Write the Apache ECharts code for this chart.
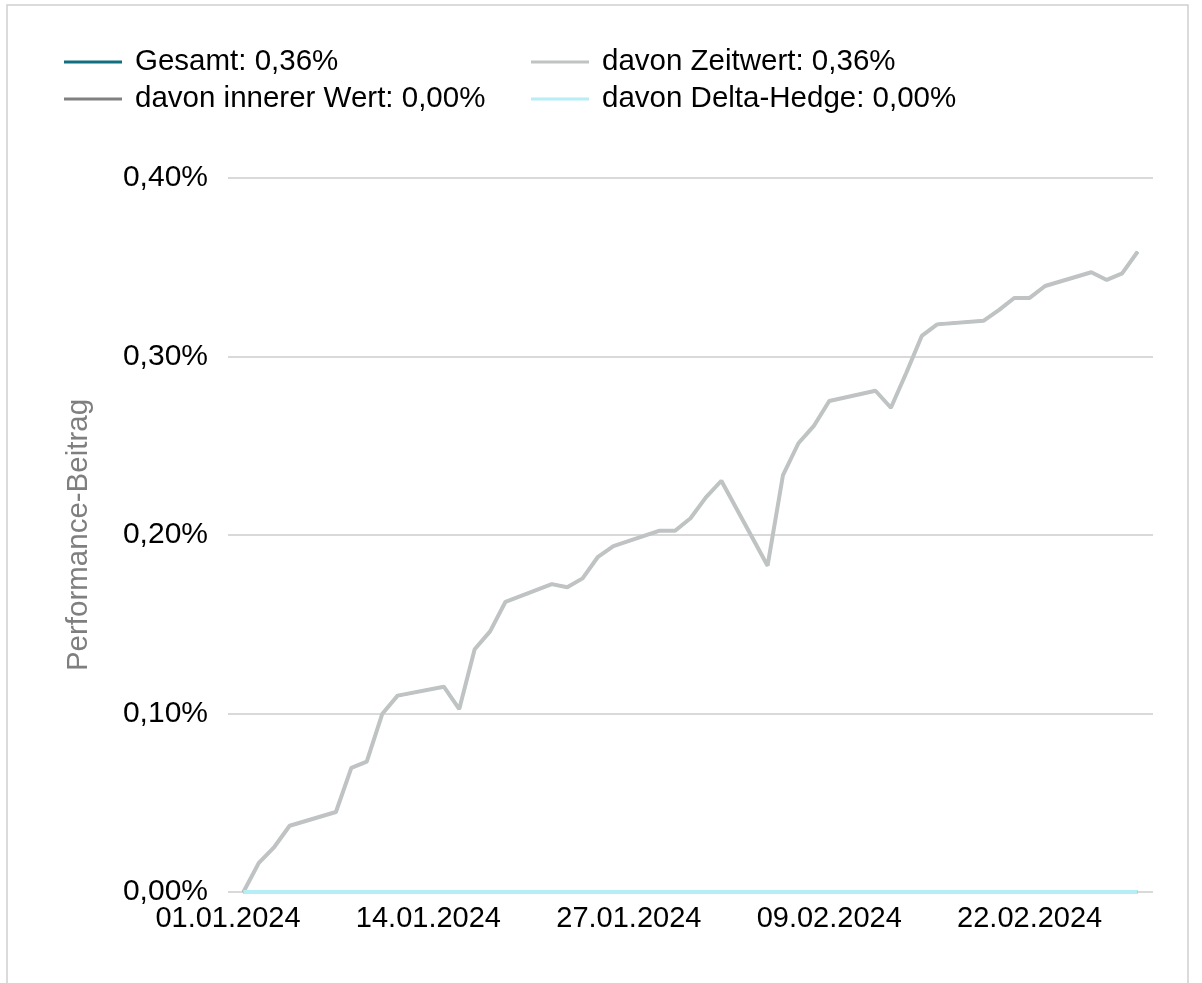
<!DOCTYPE html>
<html>
<head>
<meta charset="utf-8">
<script src="https://cdn.jsdelivr.net/npm/echarts@6/dist/echarts.min.js"></script>
<style>
	html, body { margin: 0; padding: 0; background: #fff; }
	#chart { width: 1202px; height: 983px; }
</style>
</head>
<body>
<div id="chart"></div>
<script>
var dates = ['02.01.2024', '03.01.2024', '04.01.2024', '05.01.2024', '08.01.2024', '09.01.2024', '10.01.2024',
	'11.01.2024', '12.01.2024', '15.01.2024', '16.01.2024', '17.01.2024', '18.01.2024', '19.01.2024',
	'22.01.2024', '23.01.2024', '24.01.2024', '25.01.2024', '26.01.2024', '29.01.2024', '30.01.2024',
	'31.01.2024', '01.02.2024', '02.02.2024', '05.02.2024', '06.02.2024', '07.02.2024', '08.02.2024',
	'09.02.2024', '12.02.2024', '13.02.2024', '14.02.2024', '15.02.2024', '16.02.2024', '19.02.2024',
	'20.02.2024', '21.02.2024', '22.02.2024', '23.02.2024', '26.02.2024', '27.02.2024', '28.02.2024',
	'29.02.2024'
];
// Werte in %
var zeitwert = [0, 0.0163, 0.0252, 0.0371, 0.0448, 0.0695, 0.0730,
	0.0997, 0.1100, 0.1150, 0.1025, 0.1360, 0.1460, 0.1626,
	0.1725, 0.1707, 0.1757, 0.1878, 0.1938, 0.2024, 0.2024,
	0.2094, 0.2211, 0.2304, 0.1828, 0.2336, 0.2514, 0.2611,
	0.2751, 0.2808, 0.2713, 0.2909, 0.3115, 0.3180, 0.3200,
	0.3260, 0.3328, 0.3328, 0.3395, 0.3472, 0.3429, 0.3466,
	0.3587
];
var gesamt = zeitwert;
var innererWert = [0, 0, 0, 0, 0, 0, 0, 0, 0, 0, 0, 0, 0, 0, 0, 0, 0, 0, 0, 0, 0, 0,
	0, 0, 0, 0, 0, 0, 0, 0, 0, 0, 0, 0, 0, 0, 0, 0, 0, 0, 0, 0, 0];
var deltaHedge = [0, 0, 0, 0, 0, 0, 0, 0, 0, 0, 0, 0, 0, 0, 0, 0, 0, 0, 0, 0, 0, 0,
	0, 0, 0, 0, 0, 0, 0, 0, 0, 0, 0, 0, 0, 0, 0, 0, 0, 0, 0, 0, 0];
var axisStart = '01.01.2024';
var axisEnd = '01.03.2024';
var names = ['Gesamt: 0,36%', 'davon innerer Wert: 0,00%', 'davon Zeitwert: 0,36%', 'davon Delta-Hedge: 0,00%'];

var DAY = 86400000;
function parseDate(s) {
	var p = s.split('.');
	return Date.UTC(+p[2], +p[1] - 1, +p[0]);
}
function dayIndex(s) {
	return Math.round((parseDate(s) - parseDate(axisStart)) / DAY);
}
function fmtDate(d) {
	var t = new Date(parseDate(axisStart) + d * DAY);
	var dd = ('0' + t.getUTCDate()).slice(-2);
	var mm = ('0' + (t.getUTCMonth() + 1)).slice(-2);
	return dd + '.' + mm + '.' + t.getUTCFullYear();
}
function pairs(vals) {
	return dates.map(function(d, i) { return [dayIndex(d), vals[i]]; });
}
function lineSeries(name, vals, color, width) {
	return {
		name: name,
		type: 'line',
		data: pairs(vals),
		showSymbol: false,
		color: color,
		lineStyle: { color: color, width: width },
		animation: false
	};
}

var font = '"Liberation Sans", Arial, sans-serif';
var legendBase = {
	orient: 'vertical',
	top: 47,
	padding: 0,
	itemWidth: 58,
	itemHeight: 3,
	itemGap: 7,
	icon: 'rect',
	textStyle: { fontFamily: font, fontSize: 29.5, color: '#000', padding: [0, 0, 0, 8] }
};

var option = {
	backgroundColor: '#fff',
	graphic: [{
		type: 'rect',
		shape: { x: 7, y: 5, width: 1181, height: 1020 },
		style: { fill: 'none', stroke: '#cfcfcf', lineWidth: 1.5 },
		silent: true
	}],
	legend: [
		Object.assign({}, legendBase, { left: 64, data: [names[0], names[1]] }),
		Object.assign({}, legendBase, { left: 531, data: [names[2], names[3]] })
	],
	grid: { left: 228, right: 49, top: 178, bottom: 91 },
	xAxis: {
		type: 'value',
		min: 0,
		max: dayIndex(axisEnd),
		interval: 13,
		axisLine: { show: false },
		axisTick: { show: false },
		splitLine: { show: false },
		axisLabel: {
			showMaxLabel: false,
			margin: 12,
			fontFamily: font,
			fontSize: 29,
			color: '#000',
			formatter: function(v) { return fmtDate(v); }
		}
	},
	yAxis: {
		type: 'value',
		min: 0,
		max: 0.4,
		interval: 0.1,
		name: 'Performance-Beitrag',
		nameLocation: 'middle',
		nameGap: 134,
		nameTextStyle: { fontFamily: font, fontSize: 29.5, color: '#7f7f7f' },
		axisLine: { show: false },
		axisTick: { show: false },
		splitLine: { lineStyle: { color: '#d9d9d9', width: 2 } },
		axisLabel: {
			margin: 20,
			fontFamily: font,
			fontSize: 30,
			color: '#000',
			formatter: function(v) { return v.toFixed(2).replace('.', ',') + '%'; }
		}
	},
	series: [
		lineSeries(names[0], gesamt, '#11707f', 2.5),
		lineSeries(names[1], innererWert, '#808080', 3.5),
		lineSeries(names[2], zeitwert, '#bfc3c3', 4),
		lineSeries(names[3], deltaHedge, '#b5eef6', 4)
	]
};

var chart = echarts.init(document.getElementById('chart'));
chart.setOption(option);
</script>
</body>
</html>
